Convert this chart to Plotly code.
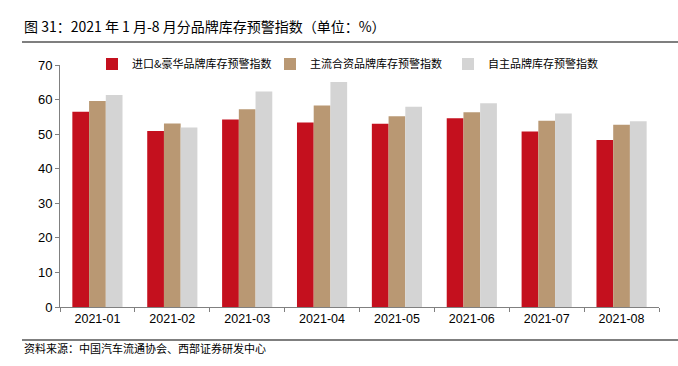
import plotly.graph_objects as go

categories = ["2021-01", "2021-02", "2021-03", "2021-04", "2021-05", "2021-06", "2021-07", "2021-08"]
import_luxury = [56.5, 50.9, 54.2, 53.4, 53.0, 54.6, 50.8, 48.3]
mainstream_jv = [59.6, 53.1, 57.2, 58.3, 55.2, 56.3, 53.9, 52.7]
domestic = [61.3, 51.9, 62.3, 65.1, 57.9, 58.9, 56.0, 53.7]
series_names = ["进口&豪华品牌库存预警指数", "主流合资品牌库存预警指数", "自主品牌库存预警指数"]
colors = ["#C4101E", "#B99873", "#D4D4D4"]
y_ticks = [0, 10, 20, 30, 40, 50, 60, 70]

W, H = 678, 366
L, R, T, B = 60, 19, 65, 59
pw, ph = W - L - R, H - T - B

def px_x(x):
    return (x - L) / pw

def px_y(y):
    return (H - B - y) / ph

fig = go.Figure()
for name, vals, c in zip(series_names, [import_luxury, mainstream_jv, domestic], colors):
    fig.add_trace(go.Bar(x=categories, y=vals, name=name, marker=dict(color=c, line=dict(width=0))))

font_cjk = "Noto Sans CJK SC"
fig.update_layout(
    width=W, height=H,
    margin=dict(l=L, r=R, t=T, b=B),
    paper_bgcolor="white", plot_bgcolor="white",
    barmode="group", bargap=0.33, bargroupgap=0,
    font=dict(family="Liberation Sans, Arial", color="#000000"),
    showlegend=True,
    legend=dict(orientation="h", x=px_x(92), xanchor="left", y=px_y(64), yanchor="middle",
                font=dict(family=font_cjk, size=11, color="#000"),
                entrywidth=133, itemwidth=30, bgcolor="rgba(0,0,0,0)",
                tracegroupgap=0),
    xaxis=dict(type="category", showline=True, linecolor="#808080", linewidth=1, ticks="outside",
               tickson="boundaries", ticklen=4, tickcolor="#808080",
               tickfont=dict(size=12.5, family="Liberation Sans, Arial"), showgrid=False),
    yaxis=dict(range=[0, 70], tickvals=y_ticks, showline=True, linecolor="#808080", linewidth=1,
               ticks="outside", ticklen=4, tickcolor="#808080", showgrid=False, zeroline=False,
               tickfont=dict(size=13, family="Liberation Sans, Arial")),
)

fig.add_annotation(text="图 31：2021 年 1 月-8 月分品牌库存预警指数（单位：%）",
                   xref="paper", yref="paper", x=px_x(22), y=px_y(26), xanchor="left", yanchor="middle",
                   showarrow=False, font=dict(family=font_cjk, size=14, color="#000"))
fig.add_annotation(text="资料来源：中国汽车流通协会、西部证券研发中心",
                   xref="paper", yref="paper", x=px_x(22), y=px_y(348), xanchor="left", yanchor="middle",
                   showarrow=False, font=dict(family=font_cjk, size=11, color="#000"))
fig.add_shape(type="line", xref="paper", yref="paper", x0=px_x(22), x1=px_x(678), y0=px_y(42), y1=px_y(42),
              line=dict(color="#555555", width=1.5))
fig.add_shape(type="line", xref="paper", yref="paper", x0=px_x(22), x1=px_x(678), y0=px_y(340), y1=px_y(340),
              line=dict(color="#555555", width=1.5))

fig.write_html("out.html", config={"displayModeBar": False},
               post_script="document.body.style.margin='0';document.body.style.padding='0';")
